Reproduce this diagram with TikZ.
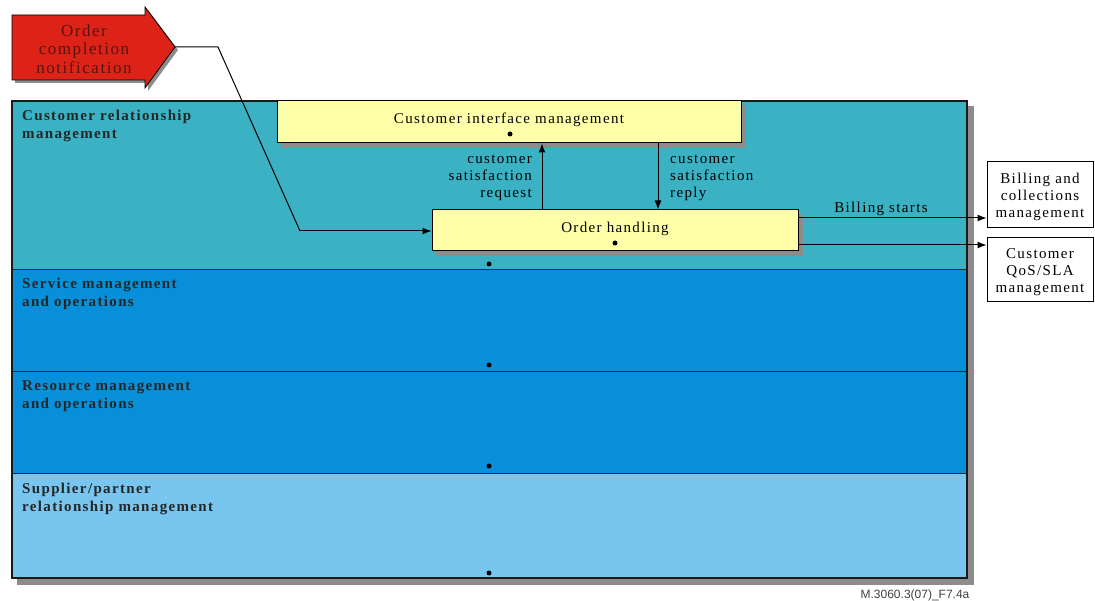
\documentclass[tikz,border=0pt]{standalone}
\usepackage{fontspec}
\setmainfont{Liberation Serif}[LetterSpace=9]
\setsansfont{Liberation Sans}
\usetikzlibrary{arrows.meta}
\definecolor{crmcol}{HTML}{3AB2C4}
\definecolor{smcol}{HTML}{078FD9}
\definecolor{spcol}{HTML}{78C5EF}
\definecolor{boxyellow}{HTML}{FFFFAA}
\definecolor{redarrow}{HTML}{DD2218}
\definecolor{redtext}{HTML}{5A1410}
\definecolor{shadowgray}{HTML}{8C8C8C}
\begin{document}
\begin{tikzpicture}[x=1pt,y=-1pt,
  band/.style={draw=black!85, line width=0.9pt},
  ybox/.style={draw=black, line width=1pt, fill=boxyellow, inner sep=0pt},
  wbox/.style={draw=black, line width=1pt, fill=white, inner sep=0pt},
  shadow/.style={fill=shadowgray},
  bandlabel/.style={anchor=north west, align=left, inner sep=0pt,
    font=\fontsize{15}{18}\selectfont\bfseries, text=black!85},
  txt/.style={inner sep=0pt, font=\fontsize{15}{17}\selectfont},
  arr/.style={-{Latex[length=9pt,width=7pt]}, line width=1pt},
  conn/.style={line width=1pt},
  dotc/.style={circle, fill=black, inner sep=0pt, minimum size=5pt}]
\useasboundingbox (0,0) rectangle (1095,601);

% main frame shadow
\fill[shadow] (17,106) rectangle (974,585);
% bands
\path[band, fill=crmcol] (12,101) rectangle (967,269);
\path[band, fill=smcol] (12,269) rectangle (967,371);
\path[band, fill=smcol] (12,371) rectangle (967,473);
\path[band, fill=spcol] (12,473) rectangle (967,578);
\draw[line width=1.2pt, black!90] (12,101) rectangle (967,578);

\node[bandlabel] (l1) at (22,110) {Customer relationship\\management};
\node[bandlabel] (l2) at (22,278) {Service management\\and operations};
\node[bandlabel] (l3) at (22,380) {Resource management\\and operations};
\node[bandlabel] (l4) at (22,483) {Supplier/partner\\relationship management};

\node[dotc] (d1) at (489,264) {};
\node[dotc] (d2) at (489,365) {};
\node[dotc] (d3) at (489,466) {};
\node[dotc] (d4) at (489,573) {};

% red arrow
\fill[shadow] (15,18) -- (148,18) -- (148,10) -- (178,50) -- (148,91) -- (148,83) -- (15,83) -- cycle;
\draw[fill=redarrow, line width=0.8pt] (12,15) -- (145,15) -- (145,7) -- (175,47) -- (145,88) -- (145,80) -- (12,80) -- cycle;
\coordinate (tip) at (175,47);
\node[txt, align=center, text=redtext, font=\fontsize{17}{18.5}\selectfont] (redlbl) at (84,49) {Order\\completion\\notification};

% yellow boxes
\fill[shadow] (281,105) rectangle (746,148);
\node[ybox, minimum width=464pt, minimum height=42pt] (cim) at (509,122) {};
\node[txt] (cimt) at (509,120) {Customer interface management};
\node[dotc] (cimd) at (510,134) {};

\fill[shadow] (436,214) rectangle (803,256);
\node[ybox, minimum width=366pt, minimum height=41pt] (oh) at (615,230.5) {};
\node[txt] (oht) at (615,229) {Order handling};
\node[dotc] (ohd) at (615,243) {};

% right boxes
\node[wbox, minimum width=106pt, minimum height=66pt] (bill) at (1040,195) {};
\node[txt, align=center] (billt) at (1040,197) {Billing and\\collections\\management};
\node[wbox, minimum width=106pt, minimum height=64pt] (qos) at (1040,270) {};
\node[txt, align=center] (qost) at (1040,272) {Customer\\QoS/SLA\\management};

% connectors
\draw[conn] (tip) -- (218,47) -- (300,231) coordinate (bend);
\draw[arr] (bend) -- (oh.west |- bend);

\coordinate (upx) at (542,0);
\coordinate (dnx) at (658,0);
\draw[arr] (oh.north -| upx) -- (cim.south -| upx);
\draw[arr] (cim.south -| dnx) -- (oh.north -| dnx);
\node[txt, align=right, anchor=north east] (reqlbl) at (532,155) {customer\\satisfaction\\request};
\node[txt, align=left, anchor=north west] (replbl) at (670,155) {customer\\satisfaction\\reply};

\coordinate (b1) at (0,218);
\coordinate (b2) at (0,245);
\draw[arr] (oh.east |- b1) -- (bill.west |- b1);
\draw[arr] (oh.east |- b2) -- (qos.west |- b2);
\node[txt] (bslbl) at (881,209) {Billing starts};

\node[inner sep=0pt, font=\sffamily\fontsize{12}{14}\selectfont, text=black!75] (fig) at (915,595) {M.3060.3(07)\_F7.4a};
\end{tikzpicture}
\end{document}
